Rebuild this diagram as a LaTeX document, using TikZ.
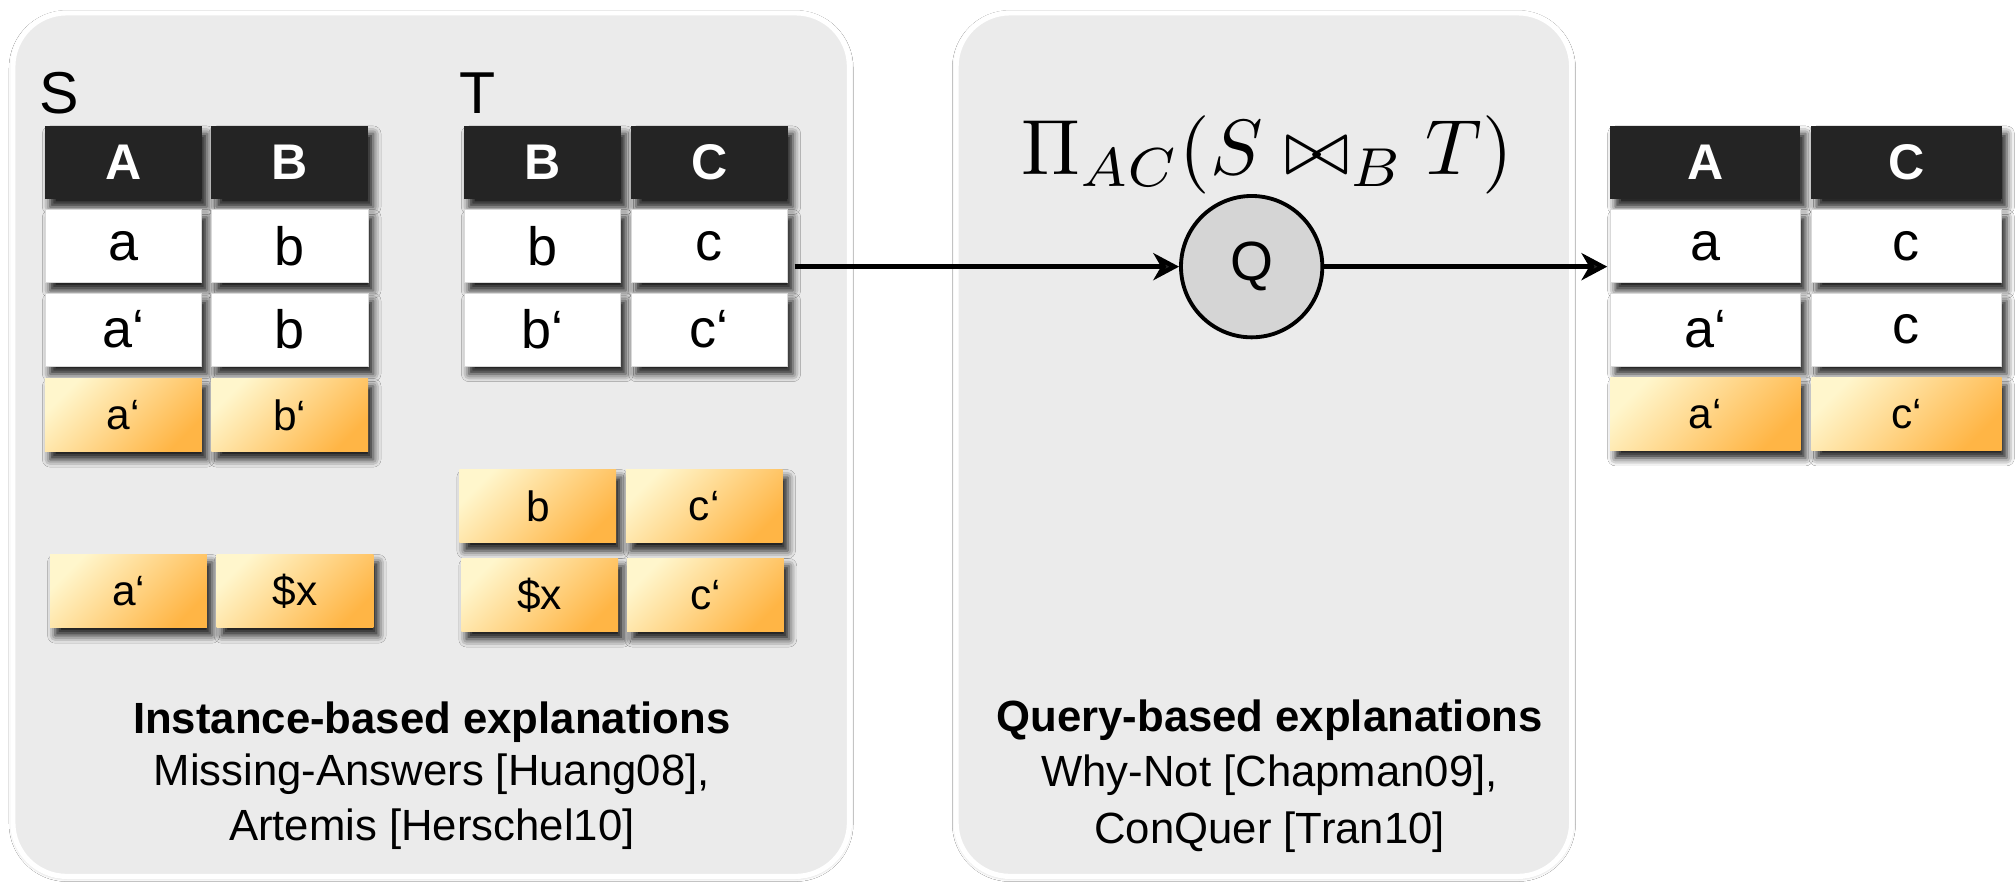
\documentclass[tikz,border=0pt]{standalone}
\usepackage{fontspec}
\setmainfont{Liberation Sans}
\newfontfamily\helv{Liberation Sans}
\usetikzlibrary{shadows.blur,arrows.meta}

\definecolor{hdr}{HTML}{242424}
\definecolor{panelgray}{HTML}{EBEBEB}
\definecolor{pale}{HTML}{FFF6CC}
\definecolor{amber}{HTML}{FFB545}
\definecolor{opfill}{HTML}{D5D5D5}

\tikzset{
  panel/.style={draw=white, line width=4pt, fill=panelgray, rounded corners=42pt,
    blur shadow={shadow xshift=0pt, shadow yshift=-1pt, shadow blur radius=3pt, shadow opacity=30}},
  cell/.style={rectangle, minimum width=122pt, minimum height=57pt, inner sep=0pt,
    blur shadow={shadow xshift=4pt, shadow yshift=-6pt, shadow blur radius=6pt, shadow opacity=90}},
  wide/.style={minimum width=148pt},
  head/.style={cell, fill=hdr, text=white, font=\helv\bfseries\fontsize{39}{44}\selectfont},
  plain/.style={cell, fill=white, draw=black!15, line width=0.6pt, font=\helv\fontsize{42}{48}\selectfont},
  hl/.style={cell, top color=pale, bottom color=amber, shading angle=45, font=\helv\fontsize{33}{38}\selectfont},
  rel/.style={anchor=base west, font=\helv\fontsize{46}{50}\selectfont},
  caption/.style={anchor=base, font=\helv\fontsize{34}{40}\selectfont},
  flow/.style={line width=3.6pt, -{Stealth[length=20pt, width=21pt, inset=6pt]}},
  op/.style={circle, draw=black, line width=3pt, fill=opfill, minimum size=110pt, inner sep=0pt,
    font=\helv\fontsize{43}{48}\selectfont}
}

\begin{document}
\begin{tikzpicture}[x=1pt, y=-1pt]
\useasboundingbox (0,0) rectangle (1568,686);
\fill[white] (0,0) rectangle (1568,686);

% the two framed panels
\path[panel] (10,10) rectangle (661,682);
\path[panel] (744,10) rectangle (1223,682);

% relation S
\node[rel] (labS) at (27,88) {S};
\node[head] (SA)  at (96,126.5)  {A};
\node[head] (SB)  at (225.5,126.5) {B};
\node[plain] (Sa1) at (96,191.5) {a};
\node[plain] (Sb1) at (225.5,191.5) {b};
\node[plain] (Sa2) at (96,256.5) {a‘};
\node[plain] (Sb2) at (225.5,256.5) {b};
\node[hl] (Sa3) at (96,323) {a‘};
\node[hl] (Sb3) at (225.5,323) {b‘};
\node[hl] (Sa4) at (100,460) {a‘};
\node[hl] (Sx4) at (229.5,460) {\$x};

% relation T
\node[rel] (labT) at (354,88) {T};
\node[head] (TB)  at (422,126.5) {B};
\node[head] (TC)  at (552,126.5) {C};
\node[plain] (Tb1) at (422,191.5) {b};
\node[plain] (Tc1) at (552,191.5) {c};
\node[plain] (Tb2) at (422,256.5) {b‘};
\node[plain] (Tc2) at (552,256.5) {c‘};
\node[hl] (Tb3) at (418.5,394) {b};
\node[hl] (Tc3) at (548,394) {c‘};
\node[hl] (Tx4) at (420,463) {\$x};
\node[hl] (Tc4) at (549,463) {c‘};

% query
\node[anchor=base, inner sep=0pt, scale=6.1, transform shape] (expr) at (986,136)
  {$\Pi_{AC}(S \bowtie_B T)$};
\node[op] (Q) at (974,207.5) {Q};

% result relation
\node[head, wide] (RA) at (1327,126.5) {A};
\node[head, wide] (RC) at (1483.5,126.5) {C};
\node[plain, wide] (Ra1) at (1327,191.5) {a};
\node[plain, wide] (Rc1) at (1483.5,191.5) {c};
\node[plain, wide] (Ra2) at (1327,256.5) {a‘};
\node[plain, wide] (Rc2) at (1483.5,256.5) {c};
\node[hl, wide] (Ra3) at (1327,322) {a‘};
\node[hl, wide] (Rc3) at (1483.5,322) {c‘};

% data flow
\coordinate (inR) at (Ra1.west |- Q.east);
\draw[flow] (Tc1.east |- Q.west) ++(5pt,0) coordinate (outT) -- (Q.west);
\draw[flow] (Q.east) -- ([xshift=-2pt]inR);

% captions
\node[caption] (insT) at (336,571) {\bfseries Instance-based explanations};
\node[caption] (insA) at (336,611) {Missing-Answers [Huang08],};
\node[caption] (insB) at (336,654) {Artemis [Herschel10]};
\node[caption] (qryT) at (988,569.5) {\bfseries Query-based explanations};
\node[caption] (qryA) at (988,612) {Why-Not [Chapman09],};
\node[caption] (qryB) at (988,656) {ConQuer [Tran10]};
\end{tikzpicture}
\end{document}
